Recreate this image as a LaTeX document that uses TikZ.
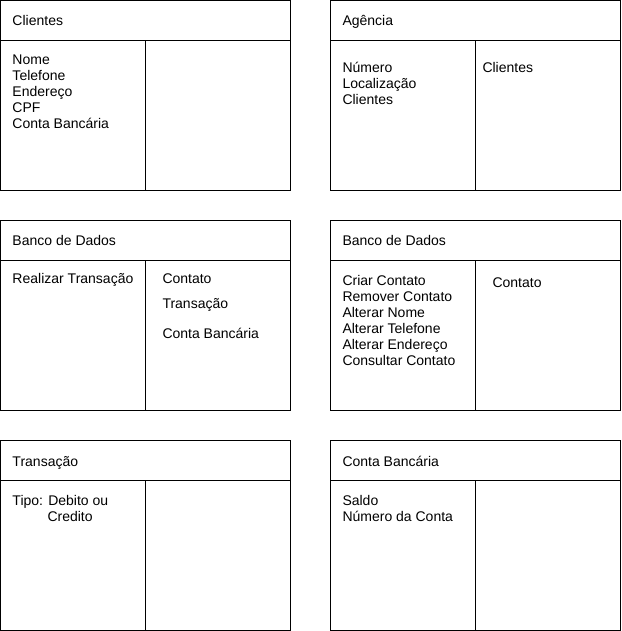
\documentclass[tikz,border=0pt]{standalone}
\usepackage{fontspec}
\setmainfont{Liberation Sans}

\begin{document}
\begin{tikzpicture}
  [x=1pt,y=-1pt,line width=1pt,
   every node/.style={anchor=west,inner sep=0pt,text height=9.4pt,text depth=0pt,
     font=\fontsize{14}{16}\selectfont}]
  \useasboundingbox (0,0) rectangle (621,631);

  % the six cards
  \foreach \x/\y in {0/0, 330/0, 0/220, 330/220, 0/440, 330/440} {
    \draw (\x+.5,\y+.5) rectangle (\x+290.5,\y+190.5);
    \draw (\x+.5,\y+40.5) -- (\x+290.5,\y+40.5);
    \draw (\x+145.5,\y+40.5) -- (\x+145.5,\y+190.5);
  }

  % Clientes
  \node (cli) at (12,21) {Clientes};
  \foreach \t [count=\i from 0] in {Nome,Telefone,Endereço,CPF,Conta Bancária}
    \node (cli-\i) at (12,60+16*\i) {\t};

  % Agencia
  \node (ag) at (342,21) {Agência};
  \foreach \t [count=\i from 0] in {Número,Localização,Clientes}
    \node (ag-\i) at (342,68+16*\i) {\t};
  \node (ag-r) at (482,68) {Clientes};

  % Banco de Dados (1)
  \node (bdA) at (12,241) {Banco de Dados};
  \node (bdA-l) at (12,279) {Realizar Transação};
  \node (bdA-r0) at (162,279) {Contato};
  \node (bdA-r1) at (162,304) {Transação};
  \node (bdA-r2) at (162,334) {Conta Bancária};

  % Banco de Dados (2)
  \node (bdB) at (342,241) {Banco de Dados};
  \foreach \t [count=\i from 0] in {Criar Contato,Remover Contato,Alterar Nome,
      Alterar Telefone,Alterar Endereço,Consultar Contato}
    \node (bdB-\i) at (342,281+16*\i) {\t};
  \node (bdB-r) at (492,283) {Contato};

  % Transacao
  \node (tr) at (12,462) {Transação};
  \node (tr-0) at (12,501) {Tipo: Debito ou};
  \node (tr-1) at (47,517) {Credito};

  % Conta Bancaria
  \node (cb) at (342,462) {Conta Bancária};
  \node (cb-0) at (342,501) {Saldo};
  \node (cb-1) at (342,517) {Número da Conta};

\end{tikzpicture}
\end{document}
